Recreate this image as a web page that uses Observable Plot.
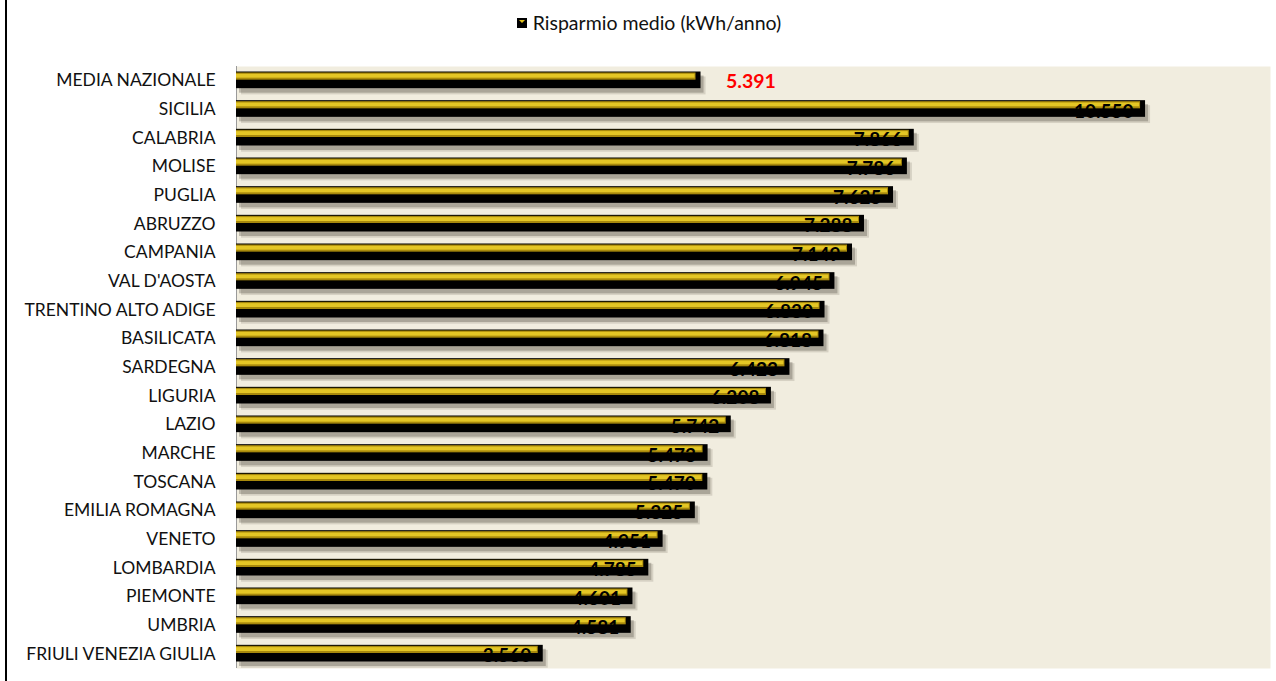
<!DOCTYPE html>
<html>
<head>
<meta charset="utf-8">
<script src="https://cdn.jsdelivr.net/npm/d3@7"></script>
<script src="https://cdn.jsdelivr.net/npm/@observablehq/plot@0.6"></script>
<style>
  html, body { margin: 0; padding: 0; background: #fff; }
  body { width: 1276px; height: 681px; position: relative; overflow: hidden; font-family: Lato, "Open Sans", sans-serif; }
  #border { position: absolute; left: 5px; top: 0; width: 2px; height: 681px; background: #000; }
  #legend { height: 45px; display: flex; align-items: center; justify-content: center; font-size: 19.5px; color: #111; padding-left: 22px; box-sizing: border-box; }
  #legend svg { margin-right: 6px; }
  #chart svg { display: block; }
</style>
</head>
<body>
<div id="border"></div>
<div id="legend"><svg width="10" height="10"><rect width="10" height="10" fill="#000"/><path d="M2,2 L8,2 L5,5 Z" fill="#E3C21C"/></svg><span>Risparmio medio (kWh/anno)</span></div>
<div id="chart"></div>
<script>
const regioni = ["MEDIA NAZIONALE", "SICILIA", "CALABRIA", "MOLISE", "PUGLIA", "ABRUZZO", "CAMPANIA", "VAL D'AOSTA", "TRENTINO ALTO ADIGE", "BASILICATA", "SARDEGNA", "LIGURIA", "LAZIO", "MARCHE", "TOSCANA", "EMILIA ROMAGNA", "VENETO", "LOMBARDIA", "PIEMONTE", "UMBRIA", "FRIULI VENEZIA GIULIA"];
const valori = [5391, 10550, 7866, 7786, 7625, 7288, 7149, 6945, 6830, 6818, 6423, 6208, 5742, 5473, 5470, 5325, 4951, 4785, 4601, 4581, 3560];
const mediaLabel = "MEDIA NAZIONALE";

const data = regioni.map((r, i) => ({regione: r, valore: valori[i]}));
const media = data.filter(d => d.regione === mediaLabel);
const altre = data.filter(d => d.regione !== mediaLabel);
const fmt = d3.formatLocale({decimal: ",", thousands: ".", grouping: [3], currency: ["", "€"]}).format(",d");

const chart = Plot.plot({
  width: 1276,
  height: 636,
  marginLeft: 236,
  marginRight: 6,
  marginTop: 21,
  marginBottom: 13,
  style: {background: "transparent", fontFamily: "Lato, 'Open Sans', sans-serif"},
  x: {domain: [0, 12000], axis: null},
  y: {domain: regioni, padding: 0, round: false, axis: null},
  marks: [
    Plot.frame({fill: "#F1EDDF", stroke: null}),
    Plot.axisY({tickSize: 0, tickPadding: 21, fontSize: 17.5, label: null, fill: "#111"}),
    Plot.ruleX([0], {stroke: "#9a9a9a", strokeWidth: 1}),
    // shadow
    Plot.barX(data, {y: "regione", x: "valore", fill: "#3a3426", fillOpacity: 0.28, insetTop: 9.5, insetBottom: 2, dx: 3}),
    Plot.barX(data, {y: "regione", x: "valore", fill: "#3a3426", fillOpacity: 0.15, insetTop: 10.5, insetBottom: 0.3, dx: 5}),
    // body
    Plot.barX(data, {y: "regione", x: "valore", fill: "#000", insetTop: 5.5, insetBottom: 6.5}),
    // gold highlight
    Plot.barX(data, {y: "regione", x: "valore", fill: "#A8890C", insetTop: 6.5, insetBottom: 15, insetRight: 5}),
    Plot.barX(data, {y: "regione", x: "valore", fill: "#E4C625", insetTop: 7.8, insetBottom: 17, insetRight: 6}),
    // value labels (inside end of bars)
    Plot.text(altre, {y: "regione", x: "valore", text: d => fmt(d.valore), textAnchor: "end", dx: -12, dy: 2, fill: "#000", fontSize: 19, fontWeight: "bold"}),
    Plot.text(media, {y: "regione", x: "valore", text: d => fmt(d.valore), textAnchor: "start", dx: 25, dy: 1, fill: "#FF0000", fontSize: 19.5, fontWeight: "bold"})
  ]
});
document.getElementById("chart").appendChild(chart);
</script>
</body>
</html>
